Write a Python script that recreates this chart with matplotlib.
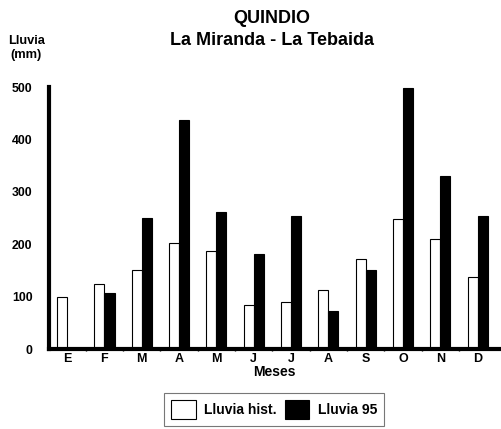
import numpy as np
import matplotlib.pyplot as plt

plt.rcParams['font.family'] = ['Liberation Sans', 'DejaVu Sans']
plt.rcParams['font.weight'] = 'bold'

meses = ['E', 'F', 'M', 'A', 'M', 'J', 'J', 'A', 'S', 'O', 'N', 'D']
lluvia_hist = [99, 124, 152, 202, 188, 84, 91, 112, 173, 248, 211, 137]
lluvia_95 = [2, 107, 251, 438, 261, 181, 255, 72, 152, 499, 331, 255]

x = np.arange(len(meses))
w = 0.27

fig = plt.figure(figsize=(5.02, 4.29), dpi=100)
ax = fig.add_axes([0.098, 0.186, 0.898, 0.611])

ax.bar(x - w / 2, lluvia_hist, w, color='white', edgecolor='black', linewidth=0.8, label='Lluvia hist.')
ax.bar(x + w / 2, lluvia_95, w, color='black', edgecolor='black', linewidth=0.8, label='Lluvia 95')

ax.set_xlim(-0.48, 11.6)
ax.set_ylim(0, 500)
ax.set_yticks([0, 100, 200, 300, 400, 500])
ax.set_xticks(x)
ax.set_xticklabels(meses, fontsize=9, fontweight='bold')
ax.set_xticks(x[:-1] + 0.5, minor=True)
ax.tick_params(axis='x', which='major', length=0, pad=3)
ax.tick_params(axis='x', which='minor', length=3, width=1, direction='inout')
ax.tick_params(axis='y', length=0, pad=12, labelsize=8.8)
for t in ax.get_yticklabels():
    t.set_fontweight('bold')

for s in ['top', 'right']:
    ax.spines[s].set_visible(False)
ax.spines['left'].set_linewidth(3)
ax.spines['bottom'].set_linewidth(3)

ax.set_xlabel('Meses', fontsize=10, fontweight='bold', labelpad=0)

fig.text(0.542, 0.956, 'QUINDIO', ha='center', va='center', fontsize=13, fontweight='bold')
fig.text(0.542, 0.905, 'La Miranda - La Tebaida', ha='center', va='center', fontsize=13, fontweight='bold')
fig.text(0.052, 0.888, 'Lluvia\n(mm)', ha='center', va='center', fontsize=9.3, fontweight='bold', linespacing=1.2)

leg = fig.legend(loc='lower center', bbox_to_anchor=(0.546, -0.01), ncol=2, frameon=True,
                 fancybox=False, edgecolor='#555555', fontsize=10, handlelength=1.75,
                 handleheight=1.75, columnspacing=0.6, handletextpad=0.6, borderpad=0.5)
leg.get_frame().set_linewidth(0.8)

fig.savefig('out.png', dpi=100)
